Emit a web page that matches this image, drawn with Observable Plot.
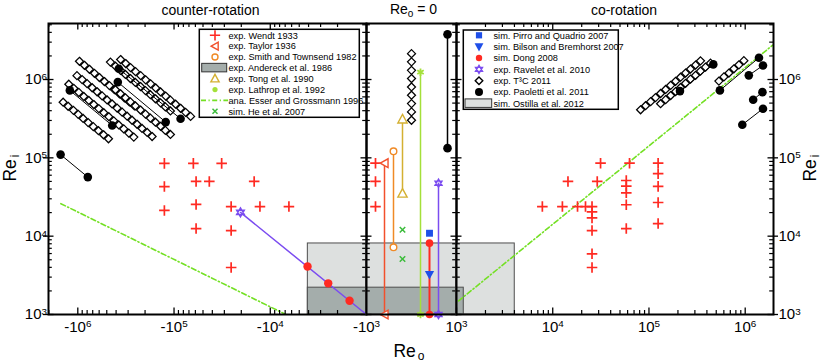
<!DOCTYPE html>
<html><head><meta charset="utf-8">
<script src="https://cdn.jsdelivr.net/npm/d3@7"></script>
<script src="https://cdn.jsdelivr.net/npm/@observablehq/plot@0.6"></script>
<style>
body{margin:0;background:#fff;}
#wrap{position:relative;width:822px;height:362px;}
#wrap svg{position:absolute;left:0;top:0;}
</style></head><body><div id="wrap"></div>
<script>
// ---------------- data ----------------
const yMajor = [1e3, 1e4, 1e5, 1e6];
const yMinor = [2e3,3e3,4e3,5e3,6e3,7e3,8e3,9e3, 2e4,3e4,4e4,5e4,6e4,7e4,8e4,9e4, 2e5,3e5,4e5,5e5,6e5,7e5,8e5,9e5, 2e6,3e6,4e6,5e6];
const yLabels = ["10^3","10^4","10^5","10^6"];
const xMajorLeft = [-1e6, -1e5, -1e4, -1e3];
const xMinorLeft = [-2e6, -9e5,-8e5,-7e5,-6e5,-5e5,-4e5,-3e5,-2e5, -9e4,-8e4,-7e4,-6e4,-5e4,-4e4,-3e4,-2e4, -9e3,-8e3,-7e3,-6e3,-5e3,-4e3,-3e3,-2e3];
const xLabelsLeft = ["-10^6","-10^5","-10^4","-10^3"];
const xMajorRight = [1e3, 1e4, 1e5, 1e6];
const xMinorRight = [2e3,3e3,4e3,5e3,6e3,7e3,8e3,9e3, 2e4,3e4,4e4,5e4,6e4,7e4,8e4,9e4, 2e5,3e5,4e5,5e5,6e5,7e5,8e5,9e5];
const xLabelsRight = ["10^3","10^4","10^5","10^6"];

// slots used to spread the Re_o = 0 data horizontally
const midSlots = ["Wendt 1933","Taylor 1936","Smith and Townsend 1982","Tong et al. 1990","T3C 2011","Lathrop et al. 1992","Dong 2008","Ravelet et al. 2010","Paoletti et al. 2011"];

// exp. Wendt 1933
const wendtReo = [-1.26e5,-6.3e4,-3.2e4, -1.26e5,-5.9e4,-4.3e4,-1.47e4, -1.26e5,-5.9e4,-2.55e4,-1.28e4,-6.4e3, -5.9e4,-2.55e4, -2.55e4,
  0,0,0,
  7.8e3,1.26e4,1.44e4,1.81e4,2.19e4, 2.56e4,2.56e4,2.56e4,2.56e4,2.56e4,2.56e4, 2.9e4,3.14e4, 5.81e4,5.81e4,5.81e4,5.81e4,5.81e4, 6.28e4, 1.245e5,1.245e5,1.245e5,1.245e5,1.245e5];
const wendtRei = [8.5e4,8.5e4,8.5e4, 4.3e4,5.0e4,5.0e4,5.0e4, 2.13e4,2.54e4,2.39e4,2.39e4,2.39e4, 1.25e4,1.18e4, 3.98e3,
  8.55e4,5.0e4,2.39e4,
  2.39e4,2.39e4,5.0e4,2.39e4,2.39e4, 2.39e4,2.04e4,1.71e4,1.18e4,5.96e3,3.98e3, 5.0e4,8.55e4, 5.14e4,4.35e4,3.58e4,2.52e4,1.25e4, 8.55e4, 8.55e4,6.27e4,4.32e4,2.69e4,1.45e4];
// exp. Taylor 1936
const taylorReo = [0, 0];
const taylorRei = [8.55e4, 1e3];
// exp. Smith and Townsend 1982
const smithReo = [0, 0];
const smithRei = [1.21e5, 7.2e3];
// exp. Tong et al. 1990
const tongReo = [0, 0];
const tongRei = [3.1e5, 3.5e4];
// exp. Lathrop et al. 1992
const lathropReo = [0, 0];
const lathropRei = [1.24e6, 1e3];
// sim. He et al. 2007
const heReo = [0, 0];
const heRei = [1.21e4, 5.1e3];
// sim. Pirro and Quadrio 2007
const pirroReo = [0];
const pirroRei = [1.09e4];
// sim. Bilson and Bremhorst 2007
const bilsonReo = [0];
const bilsonRei = [3.24e3];
// sim. Dong 2008
const dongReo = [-4.1e3, -2.5e3, -1.5e3, 0, 0];
const dongRei = [4.1e3, 2.5e3, 1.5e3, 8.15e3, 1e3];
// exp. Ravelet et al. 2010
const raveletReo = [-2.04e4, -1e3, 0, 0];
const raveletRei = [2.01e4, 1e3, 4.75e4, 1e3];
// ana. Esser and Grossmann 1996
const esserRun = [1, 1, 2, 2];
const esserReo = [-1.5e6, -6.9e3, 1.05e3, 1.93e6];
const esserRei = [2.6e4, 1e3, 1.49e3, 2.74e6];
// exp. Paoletti et al. 2011 (pairs)
const paoRun = [1,1,2,2,3,3,4,4,5,5,6,6,7,7,8,8,9,9,10,10];
const paoReo = [-1.51e6,-7.87e5, -1.21e6,-4.39e5, -3.84e5,-1.22e5, -3.75e5,-8.55e4, 0,0, 2.10e5,4.66e5, 5.46e5,1.39e6, 1.09e6,1.53e6, 1.21e6,1.51e6, 9.33e5,1.53e6];
const paoRei = [1.10e5,5.68e4, 7.26e5,2.59e5, 9.27e5,2.86e5, 1.37e6,3.16e5, 3.77e6,1.33e5, 7.11e5,1.56e6, 7.26e5,1.90e6, 1.13e6,1.51e6, 5.52e5,6.9e5, 2.65e5,4.24e5];
// exp. T3C 2011
const t3cReo = [
  -4.8e5,-5.4e5,-6.1e5,-6.9e5,-7.8e5,-8.8e5,-9.9e5,-1.11e6,-1.26e6,-1.42e6,
  -2.62e5,-2.95e5,-3.33e5,-3.75e5,-4.23e5,-4.76e5,-5.37e5,-6.05e5,-6.82e5,-7.68e5,-8.66e5,-9.76e5,-1.10e6,-1.24e6,
  -1.69e5,-1.90e5,-2.15e5,-2.42e5,-2.73e5,-3.07e5,-3.46e5,-3.90e5,-4.40e5,-4.96e5,-5.59e5,-6.30e5,-7.09e5,-8.00e5,-9.01e5,-1.02e6,
  -2.58e5,-2.91e5,-3.28e5,-3.69e5,-4.16e5,-4.69e5,-5.29e5,-5.96e5,-6.71e5,-7.57e5,-8.53e5,-9.61e5,
  -1.09e5,-1.23e5,-1.38e5,-1.56e5,-1.76e5,-1.98e5,-2.23e5,-2.52e5,-2.84e5,-3.20e5,-3.60e5,-4.06e5,-4.58e5,
  -6.73e4,-7.58e4,-8.55e4,-9.63e4,-1.09e5,-1.22e5,-1.38e5,-1.55e5,-1.75e5,-1.97e5,-2.22e5,-2.51e5,-2.83e5,-3.18e5,-3.59e5,
  -1.09e5,-1.23e5,-1.38e5,-1.56e5,-1.76e5,-1.98e5,-2.23e5,-2.52e5,-2.84e5,-3.20e5,-3.60e5,-4.06e5,
  0,0,0,0,0,0,0,0,0,
  8.18e4,9.22e4,1.04e5,1.17e5,1.32e5,1.49e5,1.68e5,1.89e5,2.13e5,2.40e5,2.70e5,3.05e5,3.43e5,
  1.32e5,1.49e5,1.68e5,1.89e5,2.13e5,2.40e5,2.70e5,3.05e5,3.43e5,3.87e5,4.36e5,
  5.33e5,6.01e5,6.77e5,7.63e5,8.60e5,9.69e5];
const t3cRei = [
  1.75e5,1.97e5,2.22e5,2.50e5,2.82e5,3.18e5,3.59e5,4.04e5,4.55e5,5.13e5,
  1.84e5,2.07e5,2.34e5,2.63e5,2.97e5,3.35e5,3.77e5,4.25e5,4.79e5,5.40e5,6.08e5,6.85e5,7.72e5,8.70e5,
  1.87e5,2.11e5,2.37e5,2.68e5,3.02e5,3.40e5,3.83e5,4.32e5,4.87e5,5.48e5,6.18e5,6.97e5,7.85e5,8.85e5,9.97e5,1.12e6,
  4.6e5,5.18e5,5.84e5,6.58e5,7.42e5,8.36e5,9.43e5,1.06e6,1.20e6,1.35e6,1.52e6,1.71e6,
  3.97e5,4.47e5,5.04e5,5.68e5,6.40e5,7.22e5,8.13e5,9.17e5,1.03e6,1.16e6,1.31e6,1.48e6,1.67e6,
  3.38e5,3.81e5,4.29e5,4.84e5,5.45e5,6.14e5,6.93e5,7.80e5,8.80e5,9.91e5,1.12e6,1.26e6,1.42e6,1.60e6,1.80e6,
  1.99e5,2.24e5,2.53e5,2.85e5,3.21e5,3.62e5,4.08e5,4.60e5,5.18e5,5.84e5,6.58e5,7.41e5,
  2.14e6,1.68e6,1.31e6,1.03e6,8.04e5,6.30e5,4.93e5,3.86e5,3.02e5,
  4.11e5,4.63e5,5.22e5,5.88e5,6.63e5,7.47e5,8.42e5,9.49e5,1.07e6,1.21e6,1.36e6,1.53e6,1.73e6,
  4.91e5,5.53e5,6.24e5,7.03e5,7.92e5,8.93e5,1.01e6,1.13e6,1.28e6,1.44e6,1.62e6,
  9.55e5,1.08e6,1.21e6,1.37e6,1.54e6,1.74e6];
// parameter-space boxes
const boxName = ["sim. Ostilla et al. 2012", "exp. Andereck et al. 1986"];
const boxReoMin = [-4.07e3, -4.07e3];
const boxReoMax = [4.03e3, 1.19e3];
const boxReiMin = [1e3, 1e3];
const boxReiMax = [8.07e3, 2.2e3];

// ---------------- styling ----------------
const FONT = '"Liberation Sans", Arial, Helvetica, sans-serif';
const C = {
  red: "#ff2a22", taylor: "#f2502c", smith: "#f08a26", tong: "#d4b032", lathrop: "#a4e03a",
  esser: "#74e024", he: "#3cbc3c", blue: "#1f4fe8", purple: "#7b4cf0",
  ostilla: "#dde0df", andereck: "#a4adab", boxStroke: "#4d4d4d"
};
const triLeft = {draw(c, size){const s=Math.sqrt(size); c.moveTo(-0.6*s,0); c.lineTo(0.5*s,-0.62*s); c.lineTo(0.5*s,0.62*s); c.closePath();}};
const triUp = {draw(c, size){const s=Math.sqrt(size); c.moveTo(0,-0.62*s); c.lineTo(0.58*s,0.45*s); c.lineTo(-0.58*s,0.45*s); c.closePath();}};
const triDown = {draw(c, size){const s=Math.sqrt(size); c.moveTo(0,0.62*s); c.lineTo(0.58*s,-0.45*s); c.lineTo(-0.58*s,-0.45*s); c.closePath();}};
const hexagram = {draw(c, size){const r=Math.sqrt(size)*0.6;
  for (const a0 of [-90, 90]) { for (let k=0;k<3;k++){const a=(a0+k*120)*Math.PI/180; const px=r*Math.cos(a), py=r*Math.sin(a); if(k===0) c.moveTo(px,py); else c.lineTo(px,py);} c.closePath(); }}};

// ---------------- table building ----------------
const rows = (reo, rei, run) => reo.map((x, i) => ({reo: x, rei: rei[i], run: run ? run[i] : 0}));
const wendt = rows(wendtReo, wendtRei), taylor = rows(taylorReo, taylorRei), smith = rows(smithReo, smithRei),
  tong = rows(tongReo, tongRei), lathrop = rows(lathropReo, lathropRei), he = rows(heReo, heRei),
  pirro = rows(pirroReo, pirroRei), bilson = rows(bilsonReo, bilsonRei), dong = rows(dongReo, dongRei),
  ravelet = rows(raveletReo, raveletRei), esser = rows(esserReo, esserRei, esserRun),
  pao = rows(paoReo, paoRei, paoRun), t3c = rows(t3cReo, t3cRei);
const boxes = boxName.map((n, i) => ({name: n, min: boxReoMin[i], max: boxReoMax[i], bot: boxReiMin[i], top: boxReiMax[i]}));
const L = d => d.reo < 0, R = d => d.reo > 0, M = d => d.reo === 0;

// ---------------- layout ----------------
const X0 = 48, S1 = 366, S2 = 456, X1 = 773, TOP = 23, BOT = 314, H = BOT - TOP;
const YD = [1e3, 5.19e6];
function yTicks(W, outL, outR) {
  return [
    Plot.tickY(yMajor, {y: d => d, insetLeft: outL ? -5 : 0, insetRight: W - 5.5, strokeWidth: 1.3}),
    Plot.tickY(yMinor, {y: d => d, insetRight: W - 3.8, strokeWidth: 1.2}),
    Plot.tickY(yMajor, {y: d => d, insetLeft: W - 5.5, insetRight: outR ? -5 : 0, strokeWidth: 1.3}),
    Plot.tickY(yMinor, {y: d => d, insetLeft: W - 3.8, strokeWidth: 1.2})
  ];
}
function xTicks(major, minor) {
  return [
    Plot.tickX(major, {x: d => d, insetTop: H - 6.5, strokeWidth: 1.3}),
    Plot.tickX(minor, {x: d => d, insetTop: H - 4, strokeWidth: 1.2}),
    Plot.tickX(major, {x: d => d, insetBottom: H - 6.5, strokeWidth: 1.3}),
    Plot.tickX(minor, {x: d => d, insetBottom: H - 4, strokeWidth: 1.2})
  ];
}
const common = {width: 822, height: 362, marginTop: TOP, marginBottom: 362 - BOT,
  y: {type: "log", domain: YD, axis: null},
  style: {background: "none", overflow: "visible", fontFamily: FONT}};
const boxMarks = (xo) => [
  Plot.rect([boxes[0]], {...xo, y1: "bot", y2: "top", fill: C.ostilla, stroke: C.boxStroke, strokeWidth: 1}),
  Plot.rect([boxes[1]], {...xo, y1: "bot", y2: "top", fill: C.andereck, stroke: C.boxStroke, strokeWidth: 1})
];
const diamond = {symbol: "diamond2", r: 3.6, stroke: "black", fill: "white", strokeWidth: 1.25};
const plus = {symbol: "plus", r: 3.5, stroke: C.red, strokeWidth: 1.7};

// ---- left panel: counter-rotation ----
const left = Plot.plot({...common, marginLeft: X0, marginRight: 822 - S1,
  x: {type: "log", domain: [-2.016e6, -1e3], axis: null},
  marks: [
    ...boxMarks({x1: "min", x2: d => Math.min(d.max, -1e3)}),
    Plot.line(esser.filter(L), {x: "reo", y: "rei", stroke: C.esser, strokeWidth: 1.6, strokeDasharray: "5,2.5,1.2,2.5", clip: true}),
    Plot.line(ravelet.filter(L), {x: "reo", y: "rei", stroke: C.purple, strokeWidth: 1.5, clip: true}),
    Plot.dot(ravelet.filter(d => d.reo < -1e3), {x: "reo", y: "rei", symbol: hexagram, r: 4.2, stroke: C.purple, fill: "none", strokeWidth: 1.4}),
    Plot.dot(dong.filter(L), {x: "reo", y: "rei", r: 4.2, fill: C.red}),
    Plot.dot(wendt.filter(L), {x: "reo", y: "rei", ...plus}),
    Plot.dot(t3c.filter(L), {x: "reo", y: "rei", ...diamond}),
    Plot.line(pao.filter(L), {x: "reo", y: "rei", z: "run", stroke: "black", strokeWidth: 1}),
    Plot.dot(pao.filter(L), {x: "reo", y: "rei", r: 4.3, fill: "black"}),
    Plot.frame({stroke: "black", strokeWidth: 2}),
    ...yTicks(S1 - X0, true, false),
    ...xTicks(xMajorLeft, xMinorLeft),
    Plot.text(yMajor, {y: d => d, text: yLabels, frameAnchor: "left", dx: -1.5, textAnchor: "end", fontSize: 15}),
    Plot.text(xMajorLeft, {x: d => d, text: xLabelsLeft, frameAnchor: "bottom", dy: 17, fontSize: 15})
  ]});

// ---- middle panel: Re_o = 0 ----
const at = name => () => name;
const middle = Plot.plot({...common, marginLeft: S1, marginRight: 822 - S2,
  x: {type: "point", domain: midSlots, padding: 0.9, axis: null},
  marks: [
    ...boxMarks({}),
    Plot.line(taylor.filter(M), {x: at("Taylor 1936"), y: "rei", stroke: C.taylor, strokeWidth: 1.5}),
    Plot.line(smith.filter(M), {x: at("Smith and Townsend 1982"), y: "rei", stroke: C.smith, strokeWidth: 1.5}),
    Plot.line(tong.filter(M), {x: at("Tong et al. 1990"), y: "rei", stroke: C.tong, strokeWidth: 1.5}),
    Plot.line(lathrop.filter(M), {x: at("Lathrop et al. 1992"), y: "rei", stroke: C.lathrop, strokeWidth: 1.5}),
    Plot.line(dong.filter(M), {x: at("Dong 2008"), y: "rei", stroke: C.red, strokeWidth: 2}),
    Plot.line(ravelet.filter(M), {x: at("Ravelet et al. 2010"), y: "rei", stroke: C.purple, strokeWidth: 1.5}),
    Plot.line(pao.filter(M), {x: at("Paoletti et al. 2011"), y: "rei", stroke: "black", strokeWidth: 1.5}),
    Plot.dot(wendt.filter(M), {x: at("Wendt 1933"), y: "rei", ...plus}),
    Plot.dot(taylor.filter(M), {x: at("Taylor 1936"), y: "rei", symbol: triLeft, r: 4, stroke: C.taylor, fill: "white", strokeWidth: 1.4}),
    Plot.dot(smith.filter(M), {x: at("Smith and Townsend 1982"), y: "rei", r: 3.3, stroke: C.smith, fill: "white", strokeWidth: 1.4}),
    Plot.dot(tong.filter(M), {x: at("Tong et al. 1990"), y: "rei", symbol: triUp, r: 4.5, stroke: C.tong, fill: "white", strokeWidth: 1.4}),
    Plot.dot(he.filter(M), {x: at("Tong et al. 1990"), y: "rei", symbol: "times", r: 2.6, stroke: C.he, strokeWidth: 1.5}),
    Plot.dot(t3c.filter(M), {x: at("T3C 2011"), y: "rei", ...diamond}),
    Plot.dot(lathrop.filter(M), {x: at("Lathrop et al. 1992"), y: "rei", symbol: "asterisk", r: 3.5, stroke: C.lathrop, strokeWidth: 1.8}),
    Plot.dot(pirro.filter(M), {x: at("Dong 2008"), y: "rei", symbol: "square", r: 3.9, fill: C.blue}),
    Plot.dot(dong.filter(M), {x: at("Dong 2008"), y: "rei", r: 3.8, fill: C.red}),
    Plot.dot(bilson.filter(M), {x: at("Dong 2008"), y: "rei", symbol: triDown, r: 4.5, fill: C.blue}),
    Plot.dot(ravelet.filter(M), {x: at("Ravelet et al. 2010"), y: "rei", symbol: hexagram, r: 3.8, stroke: C.purple, fill: "none", strokeWidth: 1.4}),
    Plot.dot(pao.filter(M), {x: at("Paoletti et al. 2011"), y: "rei", r: 4.3, fill: "black"}),
    Plot.frame({stroke: "black", strokeWidth: 2}),
    ...yTicks(S2 - S1, false, false)
  ]});

// ---- right panel: co-rotation ----
const right = Plot.plot({...common, marginLeft: S2, marginRight: 822 - X1,
  x: {type: "log", domain: [1e3, 1.968e6], axis: null},
  marks: [
    ...boxMarks({x1: d => Math.max(d.min, 1e3), x2: "max"}),
    Plot.line(esser.filter(R), {x: "reo", y: "rei", stroke: C.esser, strokeWidth: 1.6, strokeDasharray: "5,2.5,1.2,2.5", clip: true}),
    Plot.dot(wendt.filter(R), {x: "reo", y: "rei", ...plus}),
    Plot.dot(t3c.filter(R), {x: "reo", y: "rei", ...diamond}),
    Plot.line(pao.filter(R), {x: "reo", y: "rei", z: "run", stroke: "black", strokeWidth: 1}),
    Plot.dot(pao.filter(R), {x: "reo", y: "rei", r: 4.3, fill: "black"}),
    Plot.frame({stroke: "black", strokeWidth: 2}),
    ...yTicks(X1 - S2, false, true),
    ...xTicks(xMajorRight, xMinorRight),
    Plot.text(yMajor, {y: d => d, text: yLabels, frameAnchor: "right", dx: 5, textAnchor: "start", fontSize: 15}),
    Plot.text(xMajorRight, {x: d => d, text: xLabelsRight, frameAnchor: "bottom", dy: 17, fontSize: 15})
  ]});

const wrap = document.getElementById("wrap");
const NS = "http://www.w3.org/2000/svg";
for (const svg of [left, middle, right]) {
  svg.querySelectorAll("text").forEach(t => {
    const m = t.textContent.match(/^(.*)\^(.+)$/);
    if (m) {
      t.textContent = m[1];
      const ts = document.createElementNS(NS, "tspan");
      ts.setAttribute("dy", "-0.45em");
      ts.setAttribute("font-size", "0.66em");
      ts.textContent = m[2];
      t.appendChild(ts);
    }
  });
  wrap.appendChild(svg);
}

// ---------------- titles, axis titles, legends ----------------
const ov = d3.select(wrap).append("svg").attr("width", 822).attr("height", 362)
  .style("font-family", FONT).style("overflow", "visible");
ov.append("text").attr("x", 210.5).attr("y", 15).attr("text-anchor", "middle").attr("font-size", 14).text("counter-rotation");
ov.append("text").attr("x", 624).attr("y", 15).attr("text-anchor", "middle").attr("font-size", 14).text("co-rotation");
const t0 = ov.append("text").attr("x", 413.5).attr("y", 13.5).attr("text-anchor", "middle").attr("font-size", 14);
t0.append("tspan").text("Re");
t0.append("tspan").attr("dy", 3.5).attr("font-size", 10).text("o");
t0.append("tspan").attr("dy", -3.5).text(" = 0");
const tx = ov.append("text").attr("x", 409).attr("y", 356.5).attr("text-anchor", "middle").attr("font-size", 17.5);
tx.append("tspan").text("Re");
tx.append("tspan").attr("dx", 2).attr("dy", 3).attr("font-size", 12).text("o");
for (const [x, y] of [[15.5, 168], [815.5, 168]]) {
  const ty = ov.append("text").attr("transform", `translate(${x},${y}) rotate(-90)`).attr("text-anchor", "middle").attr("font-size", 17.5);
  ty.append("tspan").text("Re");
  ty.append("tspan").attr("dx", 2).attr("dy", 3).attr("font-size", 12).text("i");
}

function legend(x, y, w, h, sx, tx0, y0, dy, entries) {
  const g = ov.append("g");
  g.append("rect").attr("x", x).attr("y", y).attr("width", w).attr("height", h).attr("fill", "white").attr("stroke", "black").attr("stroke-width", 1.5);
  entries.forEach((e, i) => {
    const yy = y0 + i * dy;
    if (e.rect) {
      g.append("rect").attr("x", e.rect[0]).attr("y", yy - 4.5).attr("width", e.rect[1] - e.rect[0]).attr("height", 8.5)
        .attr("fill", e.fill).attr("stroke", "#333").attr("stroke-width", 1);
    } else if (e.line) {
      g.append("line").attr("x1", e.line[0]).attr("x2", e.line[1]).attr("y1", yy).attr("y2", yy)
        .attr("stroke", e.stroke).attr("stroke-width", 1.6).attr("stroke-dasharray", "5,2.5,1.2,2.5");
    } else {
      g.append("path").attr("d", d3.symbol(e.type, Math.PI * e.r * e.r)()).attr("transform", `translate(${sx},${yy})`)
        .attr("fill", e.fill || "none").attr("stroke", e.stroke || "none").attr("stroke-width", e.sw || 1.4);
    }
    g.append("text").attr("x", tx0).attr("y", yy + 3.3).attr("font-size", 9.2).text(e.label);
  });
}
legend(199.3, 29.3, 160, 88, 215, 228.5, 35.3, 10.85, [
  {type: d3.symbolPlus, r: 3.4, stroke: C.red, sw: 1.6, label: "exp. Wendt 1933"},
  {type: triLeft, r: 3.6, stroke: C.taylor, label: "exp. Taylor 1936"},
  {type: d3.symbolCircle, r: 3, stroke: C.smith, label: "exp. Smith and Townsend 1982"},
  {rect: [201.7, 226.7], fill: C.andereck, label: "exp. Andereck et al. 1986"},
  {type: triUp, r: 4, stroke: C.tong, label: "exp. Tong et al. 1990"},
  {type: d3.symbolCircle, r: 2.6, fill: C.lathrop, label: "exp. Lathrop et al. 1992"},
  {line: [201, 228], stroke: C.esser, label: "ana. Esser and Grossmann 1996"},
  {type: d3.symbolTimes, r: 2.4, stroke: C.he, sw: 1.5, label: "sim. He et al. 2007"}
]);
legend(463.3, 30, 155, 79.3, 479, 493.5, 35.3, 11.35, [
  {type: d3.symbolSquare, r: 3.5, fill: C.blue, label: "sim. Pirro and Quadrio 2007"},
  {type: triDown, r: 4.3, fill: C.blue, label: "sim. Bilson and Bremhorst 2007"},
  {type: d3.symbolCircle, r: 3.2, fill: C.red, label: "sim. Dong 2008"},
  {type: hexagram, r: 3.8, stroke: C.purple, label: "exp. Ravelet et al. 2010"},
  {type: d3.symbolDiamond2, r: 3.4, stroke: "black", fill: "white", sw: 1.4, label: "exp. T\u00b3C 2011"},
  {type: d3.symbolCircle, r: 4, fill: "black", label: "exp. Paoletti et al. 2011"},
  {rect: [465, 491.7], fill: C.ostilla, label: "sim. Ostilla et al. 2012"}
]);
</script></body></html>
